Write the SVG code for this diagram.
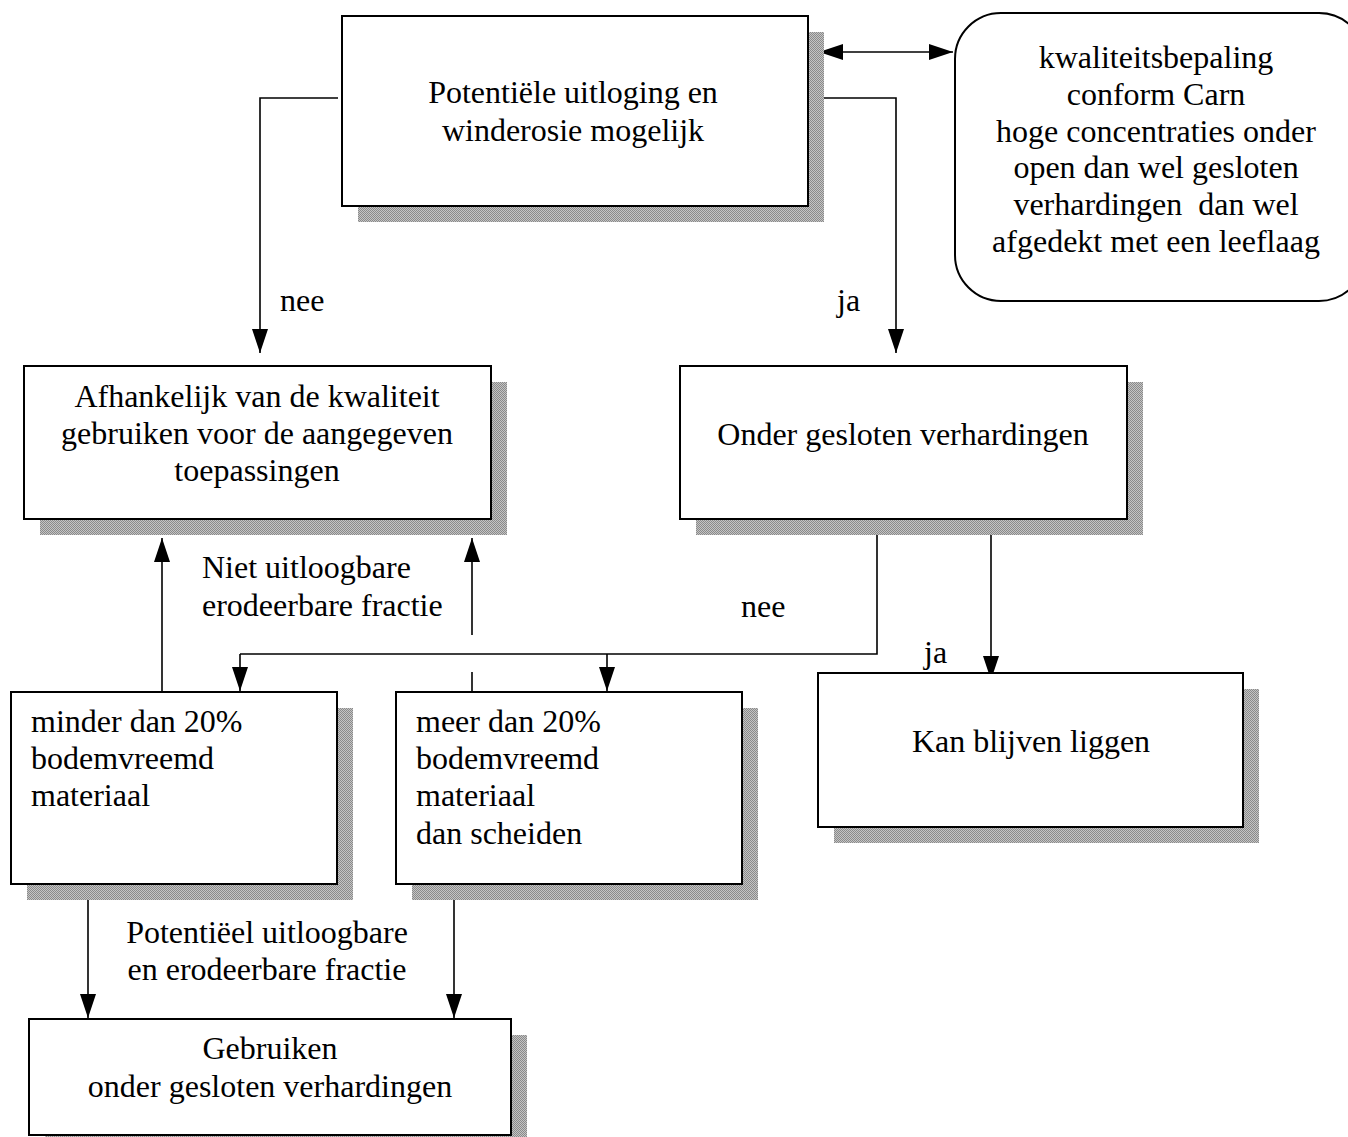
<svg xmlns="http://www.w3.org/2000/svg" width="1348" height="1137" viewBox="0 0 1348 1137">
<style>
.box{fill:#fff;stroke:#000;stroke-width:2}
.sh{fill:url(#dots)}
.t{font-family:"Liberation Serif","Times New Roman",serif;font-size:32px;fill:#000}
.c{text-anchor:middle}
.ln{fill:none;stroke:#000;stroke-width:1.6}
.ar{marker-end:url(#ah)}
</style>
<defs>
<pattern id="dots" width="2" height="2" patternUnits="userSpaceOnUse">
<rect width="2" height="2" fill="#c4c4c4"/>
<rect width="1" height="1" fill="#8a8a8a"/>
<rect x="1" y="1" width="1" height="1" fill="#8a8a8a"/>
</pattern>
<marker id="ah" viewBox="0 0 24 16" refX="24" refY="8" markerWidth="24" markerHeight="16" markerUnits="userSpaceOnUse" orient="auto-start-reverse">
<path d="M0,0 L24,8 L0,16 Z" fill="#000"/>
</marker>
</defs>
<rect width="1348" height="1137" fill="#fff"/>

<g id="connectors">
<path class="ln" d="M819,52 L953,52" marker-start="url(#ah)" marker-end="url(#ah)"/>
<path class="ln ar" d="M338,98 L260,98 L260,353"/>
<path class="ln ar" d="M822,98 L896,98 L896,353"/>
<path class="ln" d="M877,519 L877,654 L240,654"/>
<path class="ln ar" d="M240,654 L240,691"/>
<path class="ln ar" d="M607,654 L607,691"/>
<path class="ln ar" d="M991,519 L991,680"/>
<path class="ln ar" d="M162,692 L162,538"/>
<path class="ln ar" d="M472,635 L472,538"/>
<path class="ln" d="M472,672 L472,692"/>
<path class="ln ar" d="M88,900 L88,1018"/>
<path class="ln ar" d="M454,900 L454,1018"/>
<text class="t" x="280" y="311">nee</text>
<text class="t" x="837" y="311">ja</text>
<text class="t" x="741" y="617">nee</text>
<text class="t" x="924" y="663">ja</text>
<text class="t" x="202" y="578">Niet uitloogbare</text>
<text class="t" x="202" y="616">erodeerbare fractie</text>
<text class="t c" x="267" y="943">Potentiëel uitloogbare</text>
<text class="t c" x="267" y="980">en erodeerbare fractie</text>
</g>

<g id="n-top">
<rect class="sh" x="358" y="32" width="466" height="190"/>
<rect class="box" x="342" y="16" width="466" height="190"/>
<text class="t c" x="573" y="103">Potentiële uitloging en</text>
<text class="t c" x="573" y="141">winderosie mogelijk</text>
</g>

<g id="n-kwaliteit">
<rect class="box" x="955" y="13" width="410" height="288" rx="46" ry="46"/>
<text class="t c" x="1156" y="68">kwaliteitsbepaling</text>
<text class="t c" x="1156" y="105">conform Carn</text>
<text class="t c" x="1156" y="142">hoge concentraties onder</text>
<text class="t c" x="1156" y="178">open dan wel gesloten</text>
<text class="t c" x="1156" y="215" style="white-space:pre">verhardingen  dan wel</text>
<text class="t c" x="1156" y="252">afgedekt met een leeflaag</text>
</g>

<g id="n-afhankelijk">
<rect class="sh" x="40" y="382" width="467" height="153"/>
<rect class="box" x="24" y="366" width="467" height="153"/>
<text class="t c" x="257" y="407">Afhankelijk van de kwaliteit</text>
<text class="t c" x="257" y="444">gebruiken voor de aangegeven</text>
<text class="t c" x="257" y="481">toepassingen</text>
</g>

<g id="n-onder">
<rect class="sh" x="696" y="382" width="447" height="153"/>
<rect class="box" x="680" y="366" width="447" height="153"/>
<text class="t c" x="903" y="445">Onder gesloten verhardingen</text>
</g>

<g id="n-minder">
<rect class="sh" x="27" y="708" width="326" height="192"/>
<rect class="box" x="11" y="692" width="326" height="192"/>
<text class="t" x="31" y="732">minder dan 20%</text>
<text class="t" x="31" y="769">bodemvreemd</text>
<text class="t" x="31" y="806">materiaal</text>
</g>

<g id="n-meer">
<rect class="sh" x="412" y="708" width="346" height="192"/>
<rect class="box" x="396" y="692" width="346" height="192"/>
<text class="t" x="416" y="732">meer dan 20%</text>
<text class="t" x="416" y="769">bodemvreemd</text>
<text class="t" x="416" y="806">materiaal</text>
<text class="t" x="416" y="844">dan scheiden</text>
</g>

<g id="n-kan">
<rect class="sh" x="834" y="689" width="425" height="154"/>
<rect class="box" x="818" y="673" width="425" height="154"/>
<text class="t c" x="1031" y="752">Kan blijven liggen</text>
</g>

<g id="n-gebruiken">
<rect class="sh" x="45" y="1035" width="482" height="120"/>
<rect class="box" x="29" y="1019" width="482" height="116"/>
<text class="t c" x="270" y="1059">Gebruiken</text>
<text class="t c" x="270" y="1097">onder gesloten verhardingen</text>
</g>
</svg>
